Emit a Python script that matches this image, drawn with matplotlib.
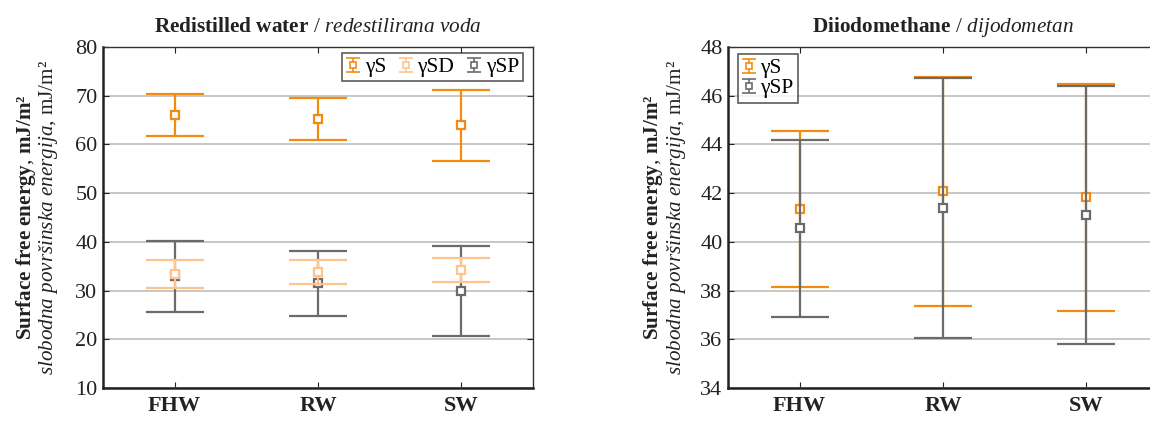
import matplotlib
matplotlib.use('Agg')
import matplotlib.pyplot as plt
import numpy as np
from matplotlib.container import ErrorbarContainer
from matplotlib.legend_handler import HandlerErrorbar

plt.rcParams['font.family'] = ['Liberation Serif', 'DejaVu Serif']
plt.rcParams['mathtext.fontset'] = 'custom'
plt.rcParams['mathtext.rm'] = 'Liberation Serif'
plt.rcParams['mathtext.it'] = 'Liberation Serif:italic'
plt.rcParams['mathtext.bf'] = 'Liberation Serif:bold'

samples = ['FHW', 'RW', 'SW']

# redistilled water: means and error half-widths
water_s = [66.0, 65.2, 63.9]
water_s_err = [4.35, 4.35, 7.2]
water_sd = [33.35, 33.8, 34.25]
water_sd_err = [2.85, 2.4, 2.45]
water_sp = [32.9, 31.5, 29.95]
water_sp_err = [7.2, 6.7, 9.25]

# diiodomethane
diio_s = [41.35, 42.08, 41.83]
diio_s_err = [3.22, 4.7, 4.66]
diio_sp = [40.55, 41.4, 41.1]
diio_sp_err = [3.62, 5.33, 5.31]

ORANGE = '#f28c0f'
LIGHT = '#ffc38c'
GREY = '#6b6b6b'
INK = '#222222'

fig = plt.figure(figsize=(11.5, 4.21), dpi=100)
ax1 = fig.add_axes([103 / 1150, 33 / 421, 430 / 1150, 341 / 421])
ax2 = fig.add_axes([728 / 1150, 33 / 421, 430 / 1150, 341 / 421])

x = np.arange(1, len(samples) + 1)


def series(ax, y, err, color, z):
    ax.errorbar(x, y, yerr=err, fmt='s', color=color, ecolor=color,
                mfc='white', mec=color, ms=5.5, mew=1.6, elinewidth=1.6,
                capsize=21, capthick=1.6, zorder=z)


def proxy(ax, color, label):
    # small errorbar used only for the legend key
    return ax.errorbar([np.nan], [np.nan], yerr=[1], fmt='s', color=color,
                       ecolor=color, mfc='white', mec=color, ms=4, mew=1.2,
                       elinewidth=1.2, capsize=5, capthick=1.2, label=label)


series(ax1, water_s, water_s_err, ORANGE, 3)
series(ax1, water_sp, water_sp_err, GREY, 3)
series(ax1, water_sd, water_sd_err, LIGHT, 4)

series(ax2, diio_s, diio_s_err, ORANGE, 3)
series(ax2, diio_sp, diio_sp_err, GREY, 4)

ylabel = ('$\\mathbf{Surface\\ free\\ energy}$, $\\mathbf{mJ/m²}$\n'
          '$\\mathit{slobodna\\ površinska\\ energija}$, mJ/m²')

for ax, lim, ticks, pad in [(ax1, (10, 80), np.arange(10, 81, 10), 11),
                            (ax2, (34, 48), np.arange(34, 49, 2), 9)]:
    ax.set_xlim(0.5, 3.5)
    ax.set_ylim(*lim)
    ax.set_yticks(ticks)
    ax.set_xticks(x)
    ax.set_xticklabels(samples, fontweight='bold', fontsize=15)
    ax.tick_params(axis='both', direction='in', length=4, width=0.8,
                   top=True, right=True, labelsize=16, colors=INK, pad=6)
    ax.tick_params(axis='y', pad=4)
    ax.yaxis.grid(True, color='#bdbdbd', lw=1.2)
    ax.set_axisbelow(True)
    for side in ['left', 'bottom']:
        ax.spines[side].set_linewidth(1.8)
        ax.spines[side].set_color(INK)
    for side in ['top', 'right']:
        ax.spines[side].set_linewidth(1.0)
        ax.spines[side].set_color('#333333')
    ax.set_ylabel(ylabel, fontsize=15.2, linespacing=0.95, color=INK,
                  multialignment='center', labelpad=pad)

ax1.set_title('$\\mathbf{Redistilled\\ water}$ / $\\mathit{redestilirana\\ voda}$',
              fontsize=15.3, pad=11, color=INK)
ax2.set_title('$\\mathbf{Diiodomethane}$ / $\\mathit{dijodometan}$',
              fontsize=15.3, pad=11, color=INK)

hmap = {ErrorbarContainer: HandlerErrorbar(yerr_size=0.32)}

handles1 = [proxy(ax1, ORANGE, 'γS'), proxy(ax1, LIGHT, 'γSD'),
            proxy(ax1, GREY, 'γSP')]
leg1 = ax1.legend(handles=handles1, ncol=3, loc='upper right',
                  bbox_to_anchor=(0.977, 0.983), fontsize=15.5, frameon=True,
                  fancybox=False, edgecolor='#333333', handlelength=0.6,
                  handletextpad=0.25, columnspacing=0.6, borderpad=0.2,
                  borderaxespad=0.0, handler_map=hmap)
leg1.get_frame().set_linewidth(1.2)

handles2 = [proxy(ax2, ORANGE, 'γS'), proxy(ax2, GREY, 'γSP')]
leg2 = ax2.legend(handles=handles2, loc='upper left',
                  bbox_to_anchor=(0.023, 0.98), fontsize=15.5, frameon=True,
                  fancybox=False, edgecolor='#333333', handlelength=0.6,
                  handletextpad=0.25, borderpad=0.2, labelspacing=0.0,
                  borderaxespad=0.0, handler_map=hmap)
leg2.get_frame().set_linewidth(1.2)

fig.savefig('out.png', dpi=100)
